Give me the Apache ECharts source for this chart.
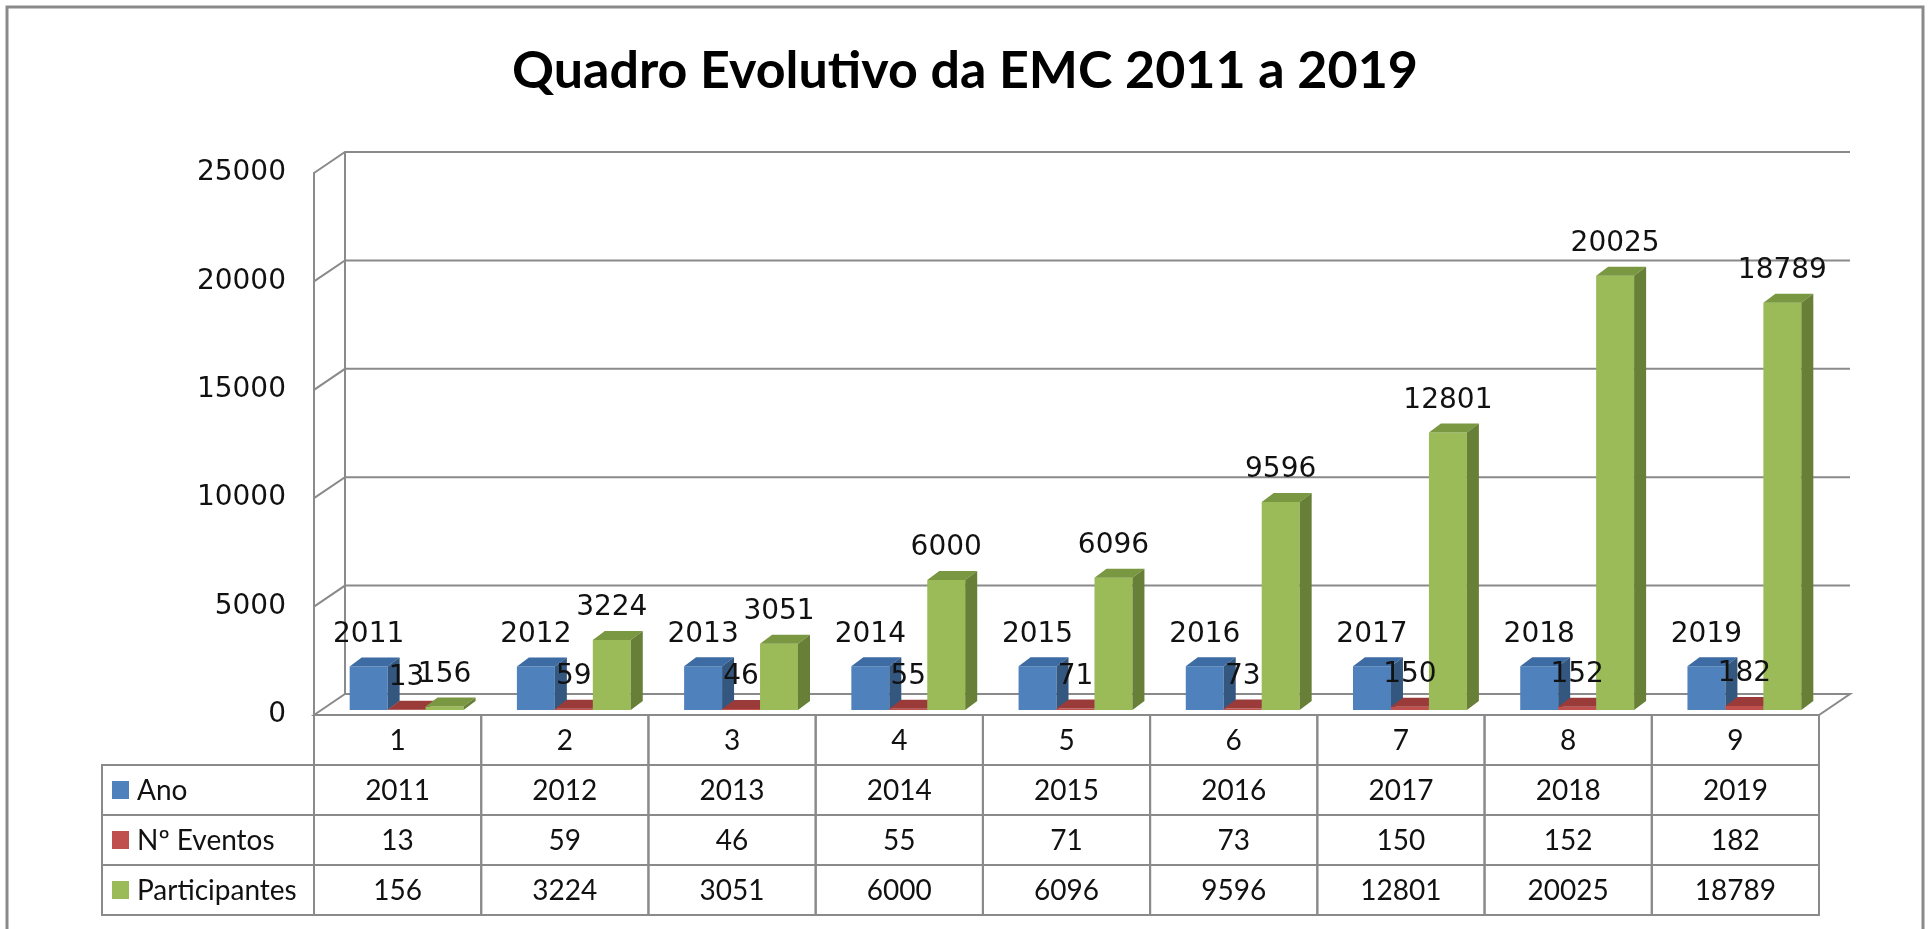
<!DOCTYPE html>
<html>
<head>
<meta charset="utf-8">
<script src="https://cdn.jsdelivr.net/npm/echarts@6/dist/echarts.min.js"></script>
<style>
html, body { margin: 0; padding: 0; background: #fff; }
#chart { width: 1930px; height: 929px; }
</style>
</head>
<body>
<div id="chart"></div>
<script>
const categories = ['1', '2', '3', '4', '5', '6', '7', '8', '9']
const ano = [2011, 2012, 2013, 2014, 2015, 2016, 2017, 2018, 2019]
const eventos = [13, 59, 46, 55, 71, 73, 150, 152, 182]
const participantes = [156, 3224, 3051, 6000, 6096, 9596, 12801, 20025, 18789]
const seriesNames = ['Ano', 'Nº Eventos', 'Participantes']
const yTicks = [0, 5000, 10000, 15000, 20000, 25000]

// front / top / side colours of the 3d bars
const barColors = [
    ['#4F81BD', '#3D6BA3', '#34577F'],
    ['#C0504D', '#9B3B39', '#7A2D2B'],
    ['#9BBB59', '#7A9841', '#677F36'],
]
const LINE = '#8a8a8a'
const DX = 31, DY = 21  // wall depth
const ROW_H = 50

function wallItem(params, api) {
    var cs = params.coordSys
    var v = api.value(1)
    var y = api.coord([0, v])[1]
    var l = cs.x, r = cs.x + cs.width
    var children = []
    if (v === 0) {
        var yTop = api.coord([0, yTicks[yTicks.length - 1]])[1]
        children.push({
            type: 'polygon',
            shape: { points: [[l, y], [l + DX, y - DY], [r + DX, y - DY], [r, y]] },
            style: { fill: '#fff', stroke: LINE, lineWidth: 2 }
        })
        children.push({
            type: 'line',
            shape: { x1: l + DX, y1: y - DY, x2: l + DX, y2: yTop - DY },
            style: { stroke: LINE, lineWidth: 2 }
        })
    } else {
        children.push({
            type: 'polyline',
            shape: { points: [[l, y], [l + DX, y - DY], [r + DX, y - DY]] },
            style: { stroke: LINE, lineWidth: 2, fill: null }
        })
    }
    return { type: 'group', children: children }
}

function makeBarItem(k) {
    return function (params, api) {
        var i = api.value(0), v = api.value(1)
        var p0 = api.coord([i, 0])
        var p1 = api.coord([i, v])
        var band = api.size([1, 0])[0]
        var w = band * 0.227
        var bx = 12, by = 9
        var x = p0[0] - 1.5 * w + 9 + k * w
        var base = p0[1] - 5
        var top = base - (p0[1] - p1[1])
        var c = barColors[k]
        return {
            type: 'group',
            children: [
                { type: 'rect', shape: { x: x, y: top, width: w, height: base - top }, style: { fill: c[0] } },
                { type: 'polygon', shape: { points: [[x, top], [x + bx, top - by], [x + w + bx, top - by], [x + w, top]] }, style: { fill: c[1] } },
                { type: 'polygon', shape: { points: [[x + w, top], [x + w + bx, top - by], [x + w + bx, base - by], [x + w, base]] }, style: { fill: c[2] } },
                {
                    type: 'text', z2: 100,
                    x: x + w / 2, y: top - 18,
                    style: {
                        text: String(v), fill: '#111',
                        fontSize: 28, fontFamily: 'DejaVu Sans',
                        align: 'center', verticalAlign: 'bottom'
                    }
                }
            ]
        }
    }
}

function cellText(x, y, text) {
    return {
        type: 'text', x: x, y: y,
        style: { text: text, fill: '#111', fontSize: 28, fontFamily: 'Lato', align: 'center', verticalAlign: 'middle' }
    }
}

function tableItem(params, api) {
    var i = params.dataIndex
    var cs = params.coordSys
    var p0 = api.coord([i, 0])
    var band = api.size([1, 0])[0]
    var x0 = p0[0] - band / 2
    var y0 = p0[1]
    var rows = [categories[i], String(ano[i]), String(eventos[i]), String(participantes[i])]
    var children = []
    rows.forEach(function (t, r) {
        children.push({
            type: 'rect',
            shape: { x: x0, y: y0 + r * ROW_H, width: band, height: ROW_H },
            style: { fill: null, stroke: LINE, lineWidth: 2 }
        })
        children.push(cellText(p0[0], y0 + r * ROW_H + ROW_H / 2 + 1, t))
    })
    if (i === 0) {
        var lx = cs.x - 212
        seriesNames.forEach(function (name, r) {
            var yy = y0 + (r + 1) * ROW_H
            children.push({
                type: 'rect',
                shape: { x: lx, y: yy, width: cs.x - lx, height: ROW_H },
                style: { fill: null, stroke: LINE, lineWidth: 2 }
            })
            children.push({
                type: 'rect',
                shape: { x: lx + 10, y: yy + 16, width: 17, height: 18 },
                style: { fill: barColors[r][0] }
            })
            children.push({
                type: 'text', x: lx + 35, y: yy + ROW_H / 2 + 1,
                style: { text: name, fill: '#111', fontSize: 28, fontFamily: 'Lato', align: 'left', verticalAlign: 'middle' }
            })
        })
    }
    return { type: 'group', children: children }
}

var chart = echarts.init(document.getElementById('chart'))
var option = {
    animation: false,
    title: {
        text: 'Quadro Evolutivo da EMC 2011 a 2019',
        left: 'center',
        top: 40,
        textStyle: { fontSize: 52, fontWeight: 'bold', fontFamily: 'Lato', color: '#000' }
    },
    graphic: [{
        type: 'rect',
        shape: { x: 7, y: 7, width: 1916, height: 940 },
        style: { fill: null, stroke: '#8a8a8a', lineWidth: 3 }
    }],
    grid: { left: 314, right: 111, top: 173, bottom: 214 },
    xAxis: {
        type: 'category',
        data: categories,
        axisLine: { show: false },
        axisTick: { show: false },
        axisLabel: { show: false }
    },
    yAxis: {
        type: 'value',
        min: 0,
        max: 25000,
        interval: 5000,
        axisLine: { show: true, lineStyle: { color: LINE, width: 2 } },
        axisTick: { show: false },
        splitLine: { show: false },
        axisLabel: {
            margin: 28, fontSize: 28, fontFamily: 'DejaVu Sans', color: '#111',
            formatter: function (v) { return String(v) }
        }
    },
    series: [
        {
            type: 'custom', name: 'wall', z: 1,
            renderItem: wallItem,
            data: yTicks.map(function (v) { return [0, v] })
        },
        { type: 'custom', name: seriesNames[0], z: 2, renderItem: makeBarItem(0), data: ano.map(function (v, i) { return [i, v] }) },
        { type: 'custom', name: seriesNames[1], z: 2, renderItem: makeBarItem(1), data: eventos.map(function (v, i) { return [i, v] }) },
        { type: 'custom', name: seriesNames[2], z: 2, renderItem: makeBarItem(2), data: participantes.map(function (v, i) { return [i, v] }) },
        {
            type: 'custom', name: 'table', z: 3,
            renderItem: tableItem,
            data: categories.map(function (c, i) { return [i, 0] })
        }
    ]
}
chart.setOption(option)
</script>
</body>
</html>
